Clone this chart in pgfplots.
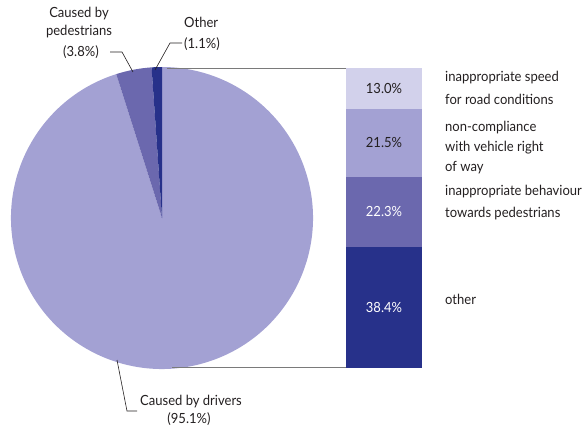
\documentclass[border=0pt]{standalone}
\usepackage{pgfplots}
\pgfplotsset{compat=1.18}
\usepackage{fontspec}
\setmainfont{Lato}[FakeStretch=0.93]
\definecolor{cA}{HTML}{D2D1EB}
\definecolor{cB}{HTML}{A3A1D3}
\definecolor{cC}{HTML}{6B68AE}
\definecolor{cD}{HTML}{27318A}
\definecolor{txt}{HTML}{231F20}
\definecolor{lead}{HTML}{7A7A7A}
% pie shares (%)
\def\pDrivers{95.1}
\def\pPed{3.8}
\def\pOther{1.1}
\begin{document}
\begin{tikzpicture}[font=\fontsize{14}{16}\selectfont, text=txt]
% stacked bar: breakdown of "Caused by drivers" (sum 95.2)
\begin{axis}[at={(346pt,61pt)}, anchor=south west,
  scale only axis, width=76pt, height=300pt,
  xmin=-0.5, xmax=0.5, ymin=0, ymax=95.2,
  hide axis, clip=false,
  ybar stacked, bar width=76pt]
  \addplot[fill=cD, draw=none] coordinates {(0,38.4)};
  \addplot[fill=cC, draw=none] coordinates {(0,22.3)};
  \addplot[fill=cB, draw=none] coordinates {(0,21.5)};
  \addplot[fill=cA, draw=none] coordinates {(0,13.0)};
\end{axis}
\begin{axis}[at={(0pt,0pt)}, anchor=south west,
  scale only axis, width=586pt, height=429pt,
  xmin=0, xmax=586, ymin=0, ymax=429,
  hide axis, clip=false]
  \coordinate (bl) at (axis cs:0,0);
  \coordinate (tr) at (axis cs:586,429);
  \pgfmathsetmacro{\aO}{90+3.6*\pOther}
  \pgfmathsetmacro{\aP}{\aO+3.6*\pPed}
  \pgfmathsetmacro{\aD}{\aP+3.6*\pDrivers}
  \fill[cB] (axis cs:162,211) -- +(\aP:151pt) arc[start angle=\aP, end angle=\aD, radius=151pt] -- cycle;
  \fill[cC] (axis cs:162,211) -- +(\aO:151pt) arc[start angle=\aO, end angle=\aP, radius=151pt] -- cycle;
  \fill[cD] (axis cs:162,211) -- +(90:151pt) arc[start angle=90, end angle=\aO, radius=151pt] -- cycle;
  % connector lines
  \draw[lead, line width=0.8pt] (axis cs:167,361) -- (axis cs:346,361);
  \draw[lead, line width=0.8pt] (axis cs:172,61.5) -- (axis cs:346,61.5);
  % leader lines
  \draw[txt, line width=0.6pt] (axis cs:110,377) -- (axis cs:122,377) -- (axis cs:133,357);
  \draw[txt, line width=0.6pt] (axis cs:182,386) -- (axis cs:170,386) -- (axis cs:155,359);
  \draw[txt, line width=0.6pt] (axis cs:117,69) -- (axis cs:127,18) -- (axis cs:137,18);
  % pie labels
  \begin{scope}[every node/.style={inner sep=0pt}]
  \node at (axis cs:79,415) {Caused by};
  \node at (axis cs:79,397) {pedestrians};
  \node at (axis cs:81,377) {(3.8\%)};
  \node[anchor=west] at (axis cs:184,407) {Other};
  \node[anchor=west] at (axis cs:184,385) {(1.1\%)};
  \node[anchor=west] at (axis cs:140,27) {Caused by drivers};
  \node at (axis cs:189,10) {(95.1\%)};
  % bar values
  \node[text=white] at (axis cs:384,121.5) {38.4\%};
  \node[text=white] at (axis cs:384,217.2) {22.3\%};
  \node at (axis cs:384,286.2) {21.5\%};
  \node at (axis cs:384,340.6) {13.0\%};
  \end{scope}
  % right labels
  \begin{scope}[every node/.style={anchor=west, inner sep=0pt}]
  \node at (axis cs:445,351) {inappropriate speed};
  \node at (axis cs:445,330) {for road conditions};
  \node at (axis cs:445,301) {non-compliance};
  \node at (axis cs:445,281) {with vehicle right};
  \node at (axis cs:445,261) {of way};
  \node at (axis cs:445,237) {inappropriate behaviour};
  \node at (axis cs:445,215) {towards pedestrians};
  \node at (axis cs:445,130) {other};
  \end{scope}
\end{axis}
\pgfresetboundingbox
\useasboundingbox (bl) rectangle (tr);
\end{tikzpicture}
\end{document}
